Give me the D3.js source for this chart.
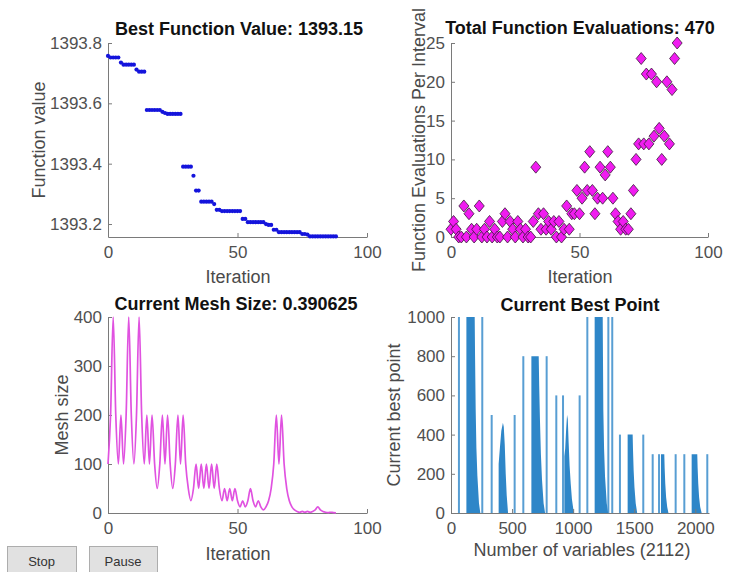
<!DOCTYPE html>
<html lang="en">
<head>
<meta charset="UTF-8" />
<title>pattern search progress</title>
<style>
  body { margin: 0; background: #fff; }
  svg { font-family: "Liberation Sans", Arial, Helvetica, sans-serif; }
</style>
</head>
<body>
<svg width="734" height="572" xmlns="http://www.w3.org/2000/svg"></svg>
<script src="https://cdn.jsdelivr.net/npm/d3@7/dist/d3.min.js"></script>
<script>
  // iteration index 0..88 (one entry per iteration)
  const iterations = d3.range(0, 89);

  // best function value per iteration
  const bestValues = [
    1393.757, 1393.752, 1393.752, 1393.752, 1393.752, 1393.735, 1393.728, 1393.728, 1393.728, 1393.728,
    1393.728, 1393.712, 1393.705, 1393.705, 1393.705, 1393.578, 1393.578, 1393.578, 1393.578, 1393.578,
    1393.578, 1393.572, 1393.568, 1393.565, 1393.565, 1393.565, 1393.565, 1393.565, 1393.565, 1393.390,
    1393.390, 1393.390, 1393.390, 1393.360, 1393.311, 1393.311, 1393.274, 1393.274, 1393.274, 1393.274,
    1393.274, 1393.266, 1393.247, 1393.247, 1393.243, 1393.243, 1393.243, 1393.243, 1393.243, 1393.243,
    1393.243, 1393.243, 1393.217, 1393.217, 1393.206, 1393.206, 1393.206, 1393.206, 1393.206, 1393.206,
    1393.206, 1393.200, 1393.197, 1393.197, 1393.181, 1393.181, 1393.173, 1393.173, 1393.173, 1393.173,
    1393.173, 1393.173, 1393.173, 1393.173, 1393.173, 1393.167, 1393.167, 1393.165, 1393.159, 1393.159,
    1393.159, 1393.159, 1393.159, 1393.159, 1393.159, 1393.159, 1393.159, 1393.159, 1393.159
  ];

  // function evaluations per interval
  const funcEvals = [
    1, 2, 1, 0, 0, 4, 0, 3, 1, 0,
    1, 4, 0, 1, 0, 2, 0, 1, 0, 0,
    2, 3, 0, 2, 1, 0, 2, 1, 0, 1,
    0, 0, 2, 9, 3, 1, 3, 1, 2, 1,
    2, 0, 2, 0, 1, 4, 1, 3, 3, 6,
    3, 5, 9, 6, 11, 6, 3, 5, 9, 5,
    8, 11, 9, 5, 3, 2, 1, 2, 1, 1,
    3, 6, 10, 12, 23, 12, 21, 12, 21, 13,
    20, 14, 10, 13, 20, 12, 19, 23, 25
  ];

  // mesh size per iteration
  const meshSizes = [
    100, 200, 400, 200, 100, 200, 100, 200, 400, 200,
    100, 200, 400, 200, 100, 200, 100, 200, 100, 50,
    100, 200, 100, 200, 100, 50, 100, 200, 100, 200,
    100, 50, 25, 50, 100, 50, 100, 50, 100, 50,
    100, 50, 100, 50, 25, 50, 25, 50, 25, 50,
    25, 12.5, 25, 12.5, 25, 50, 25, 12.5, 25, 12.5,
    6.25, 12.5, 25, 50, 100, 200, 100, 200, 100, 50,
    25, 12.5, 6.25, 3.125, 1.5625, 3.125, 1.5625, 3.125, 1.5625, 3.125,
    6.25, 12.5, 6.25, 3.125, 1.5625, 0.78125, 1.5625, 0.78125, 0.390625
  ];

  // current best point: isolated variables [variable index, value]
  const pointSpikes = [
    [65, 1000], [256, 1000], [333, 500], [521, 500], [592, 800], [783, 800],
    [862, 600], [917, 600], [1053, 600], [1116, 1000], [1288, 1000], [1320, 1000],
    [1383, 400], [1574, 400], [1651, 300], [1703, 300], [1839, 300], [1910, 300], [2098, 300]
  ];
  // dense runs of variables, outline read as [variable index, value]
  const pointBlocks = [
    [[126, 0], [126, 1000], [194, 1000], [197, 800], [202, 530], [208, 330], [216, 190], [229, 50], [240, 0]],
    [[390, 0], [390, 250], [400, 330], [412, 420], [425, 460], [432, 440], [440, 350], [448, 200], [456, 90], [467, 0]],
    [[658, 0], [658, 800], [718, 800], [722, 650], [728, 480], [736, 300], [745, 170], [758, 50], [770, 0]],
    [[928, 0], [928, 290], [935, 330], [942, 420], [950, 500], [956, 480], [963, 360], [971, 240], [980, 150], [990, 70], [1000, 25], [1008, 0]],
    [[1176, 0], [1176, 1000], [1242, 1000], [1244, 800], [1247, 525], [1253, 330], [1261, 185], [1275, 50], [1286, 0]],
    [[1446, 0], [1446, 400], [1487, 400], [1490, 320], [1495, 220], [1502, 130], [1512, 50], [1524, 0]],
    [[1719, 0], [1719, 300], [1746, 300], [1749, 230], [1754, 150], [1761, 80], [1770, 30], [1780, 0]],
    [[1970, 0], [1970, 300], [2016, 300], [2019, 230], [2024, 150], [2031, 80], [2040, 30], [2052, 0]]
  ];

  const iterTicks = [0, 50, 100];
  const bestTicks = [1393.2, 1393.4, 1393.6, 1393.8];
  const evalTicks = [0, 5, 10, 15, 20, 25];
  const meshTicks = [0, 100, 200, 300, 400];
  const pointYTicks = [0, 200, 400, 600, 800, 1000];
  const pointXTicks = [0, 500, 1000, 1500, 2000];
  const nVars = 2112;

  const axisColor = "#7a7a7a";
  const tickTextColor = "#505050";
  const labelColor = "#4a4a4a";

  const svg = d3.select("svg");
  svg.append("rect").attr("width", 734).attr("height", 572).attr("fill", "#fff");

  function drawAxes(x, y, xTicks, yTicks, yFmt) {
    const g = svg.append("g");
    const y0 = y.range()[0];
    const x0 = x.range()[0];
    const xa = g.append("g").attr("transform", `translate(0,${y0})`)
      .call(d3.axisBottom(x).tickValues(xTicks).tickSizeInner(-4).tickSizeOuter(0).tickPadding(9).tickFormat(d3.format("d")));
    const ya = g.append("g").attr("transform", `translate(${x0},0)`)
      .call(d3.axisLeft(y).tickValues(yTicks).tickSizeInner(-4).tickSizeOuter(0).tickPadding(6).tickFormat(yFmt));
    [xa, ya].forEach(a => {
      a.select(".domain").attr("stroke", axisColor).attr("stroke-width", 1);
      a.selectAll(".tick line").attr("stroke", axisColor);
      a.selectAll(".tick text").attr("fill", tickTextColor).style("font-size", "17px");
    });
  }

  function title(x, y, text) {
    svg.append("text").attr("x", x).attr("y", y).attr("text-anchor", "middle")
      .style("font-size", "18px").style("font-weight", "bold").attr("fill", "#111")
      .text(text);
  }

  function xLabel(x, y, text) {
    svg.append("text").attr("x", x).attr("y", y).attr("text-anchor", "middle")
      .style("font-size", "18px").attr("fill", labelColor).text(text);
  }

  function yLabel(x, y, text) {
    svg.append("text").attr("transform", `translate(${x},${y}) rotate(-90)`)
      .attr("text-anchor", "middle").style("font-size", "18px").attr("fill", labelColor).text(text);
  }

  // ---- panel 1: best function value
  const x1 = d3.scaleLinear().domain([0, 100]).range([108, 367]);
  const y1 = d3.scaleLinear().domain([1393.157, 1393.8]).range([237, 43]);
  drawAxes(x1, y1, iterTicks, bestTicks, d3.format(".1f"));
  svg.append("g").selectAll("circle").data(iterations).join("circle")
    .attr("cx", i => x1(i)).attr("cy", i => y1(bestValues[i]))
    .attr("r", 2.1).attr("fill", "#1414dc");
  title(239, 35, "Best Function Value: 1393.15");
  xLabel(238, 283, "Iteration");
  yLabel(45, 140, "Function value");

  // ---- panel 2: function evaluations
  const x2 = d3.scaleLinear().domain([0, 100]).range([451, 708]);
  const y2 = d3.scaleLinear().domain([0, 25]).range([237, 43]);
  drawAxes(x2, y2, iterTicks, evalTicks, d3.format("d"));
  svg.append("g").selectAll("path").data(iterations).join("path")
    .attr("d", "M0,-6L5,0L0,6L-5,0Z")
    .attr("transform", i => `translate(${x2(i)},${y2(funcEvals[i])})`)
    .attr("fill", "#f01cf0").attr("stroke", "#3a1a3a").attr("stroke-width", 0.8);
  title(580, 34, "Total Function Evaluations: 470");
  xLabel(580, 283, "Iteration");
  yLabel(425, 140, "Function Evaluations Per Interval");

  // ---- panel 3: mesh size
  const x3 = d3.scaleLinear().domain([0, 100]).range([108, 367]);
  const y3 = d3.scaleLinear().domain([0, 400]).range([513, 317]);
  drawAxes(x3, y3, iterTicks, meshTicks, d3.format("d"));
  const meshLine = d3.line().x(i => x3(i)).y(i => y3(meshSizes[i])).curve(d3.curveMonotoneX);
  svg.append("path").datum(iterations).attr("d", meshLine)
    .attr("fill", "none").attr("stroke", "#e052e0").attr("stroke-width", 1.7);
  title(236, 310, "Current Mesh Size: 0.390625");
  xLabel(238, 560, "Iteration");
  yLabel(68, 415, "Mesh size");

  // ---- panel 4: current best point
  const x4 = d3.scaleLinear().domain([0, nVars]).range([451, 709]);
  const y4 = d3.scaleLinear().domain([0, 1000]).range([513, 317]);
  const barColor = "#2e86c8";
  const blockArea = d3.area().x(d => x4(d[0])).y0(y4(0)).y1(d => y4(d[1]));
  svg.append("g").selectAll("path").data(pointBlocks).join("path")
    .attr("d", blockArea).attr("fill", barColor);
  svg.append("g").selectAll("rect").data(pointSpikes).join("rect")
    .attr("x", d => x4(d[0]) - 1).attr("width", 2)
    .attr("y", d => y4(d[1])).attr("height", d => y4(0) - y4(d[1]))
    .attr("fill", barColor).attr("opacity", 0.8);
  drawAxes(x4, y4, pointXTicks, pointYTicks, d3.format("d"));
  title(580, 311, "Current Best Point");
  xLabel(582, 556, "Number of variables (2112)");
  yLabel(400, 415, "Current best point");

  // ---- buttons
  const buttons = [["Stop", 7, 69], ["Pause", 89, 68]];
  buttons.forEach(([label, bx, bw]) => {
    svg.append("rect").attr("x", bx + 0.5).attr("y", 546.5).attr("width", bw).attr("height", 30)
      .attr("fill", "#e1e1e1").attr("stroke", "#adadad");
    svg.append("text").attr("x", bx + bw / 2).attr("y", 566).attr("text-anchor", "middle")
      .style("font-size", "13px").attr("fill", "#333").text(label);
  });
</script>
</body>
</html>
